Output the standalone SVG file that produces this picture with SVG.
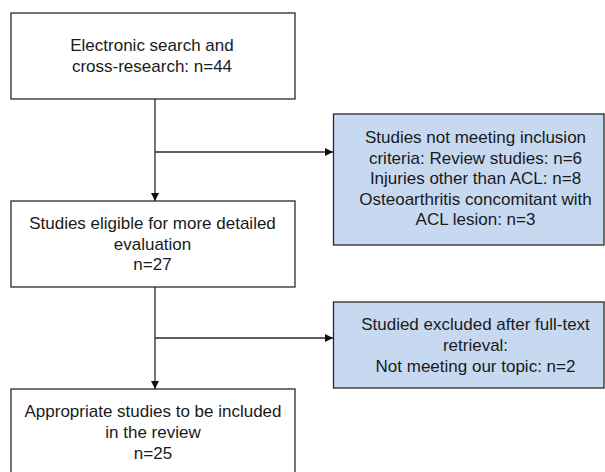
<svg xmlns="http://www.w3.org/2000/svg" width="605" height="472" viewBox="0 0 605 472">
<style>
.box{fill:#ffffff;stroke:#2a2a2a;stroke-width:1.3}
.blue{fill:#c6d9f1;stroke:#2a2a2a;stroke-width:1.3}
.t{font-family:"Liberation Sans",Arial,sans-serif;font-size:17px;fill:#1a1a1a;text-anchor:middle}
.c{stroke:#2a2a2a;stroke-width:1.3;fill:none}
</style>
<defs>
<marker id="ah" viewBox="0 0 10 10" refX="10" refY="5" markerWidth="8" markerHeight="8" markerUnits="userSpaceOnUse" orient="auto">
<path d="M0,0 L10,5 L0,10 z" fill="#111"/>
</marker>
</defs>
<g id="connectors">
<line class="c" x1="155" y1="99" x2="155" y2="201" marker-end="url(#ah)"/>
<line class="c" x1="155" y1="152" x2="333" y2="152" marker-end="url(#ah)"/>
<line class="c" x1="155" y1="287" x2="155" y2="389" marker-end="url(#ah)"/>
<line class="c" x1="155" y1="338" x2="333" y2="338" marker-end="url(#ah)"/>
</g>
<g id="n1">
<rect class="box" x="11" y="13" width="284" height="86"/>
<text class="t" x="152" y="51">Electronic search and</text>
<text class="t" x="152" y="72">cross-research: n=44</text>
</g>
<g id="n2">
<rect class="blue" x="333.5" y="114" width="270.5" height="131"/>
<text class="t" x="475.5" y="143">Studies not meeting inclusion</text>
<text class="t" x="475.5" y="163.5">criteria: Review studies: n=6</text>
<text class="t" x="475.5" y="184">Injuries other than ACL: n=8</text>
<text class="t" x="475.5" y="204.5">Osteoarthritis concomitant with</text>
<text class="t" x="475.5" y="225">ACL lesion: n=3</text>
</g>
<g id="n3">
<rect class="box" x="11" y="201" width="284" height="86"/>
<text class="t" x="152.5" y="229">Studies eligible for more detailed</text>
<text class="t" x="152.5" y="249.5">evaluation</text>
<text class="t" x="152.5" y="270">n=27</text>
</g>
<g id="n4">
<rect class="blue" x="333.5" y="302" width="270.5" height="86"/>
<text class="t" x="475.5" y="330">Studied excluded after full-text</text>
<text class="t" x="475.5" y="351">retrieval:</text>
<text class="t" x="475.5" y="372">Not meeting our topic: n=2</text>
</g>
<g id="n5">
<rect class="box" x="11" y="389" width="284" height="90"/>
<text class="t" x="153" y="417">Appropriate studies to be included</text>
<text class="t" x="153" y="438">in the review</text>
<text class="t" x="153" y="459">n=25</text>
</g>
</svg>
